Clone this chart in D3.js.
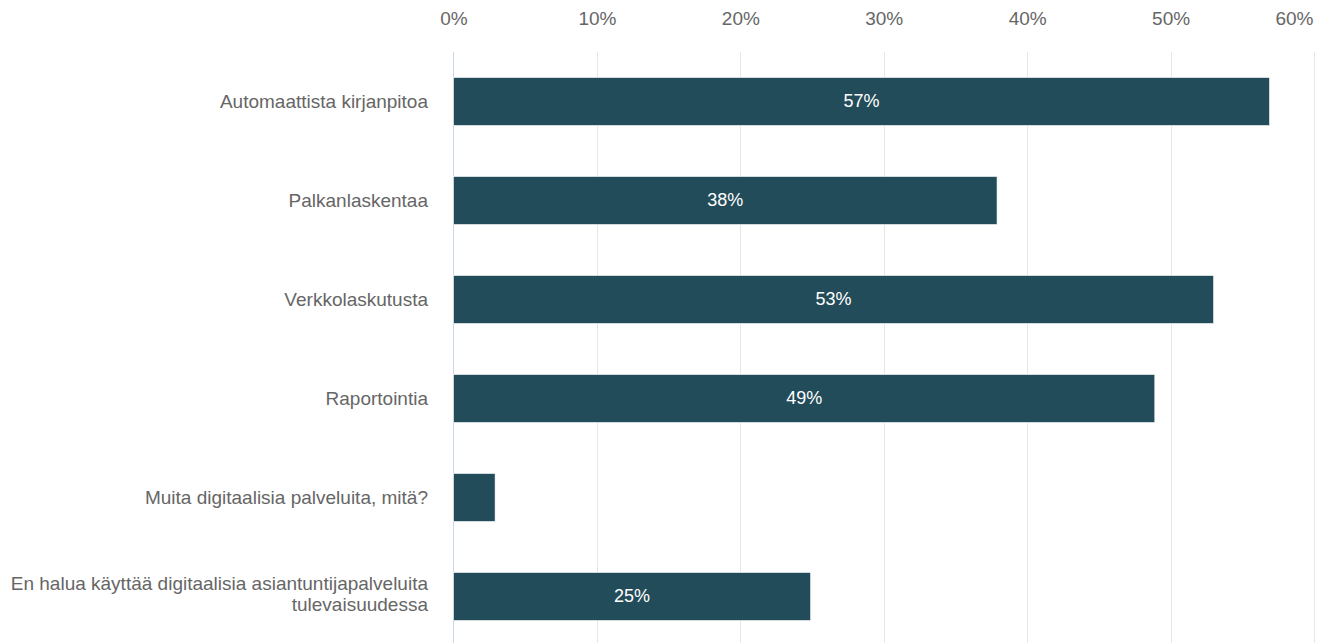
<!DOCTYPE html>
<html><head><meta charset="utf-8">
<script src="https://cdn.jsdelivr.net/npm/d3@7"></script>
<style>body{margin:0;background:#fff;}svg{display:block;font-family:"Liberation Sans",Arial,sans-serif;}</style>
</head><body><svg id="c" width="1323" height="643"></svg>
<script>
const categories = [
  ["Automaattista kirjanpitoa"],
  ["Palkanlaskentaa"],
  ["Verkkolaskutusta"],
  ["Raportointia"],
  ["Muita digitaalisia palveluita, mitä?"],
  ["En halua käyttää digitaalisia asiantuntijapalveluita", "tulevaisuudessa"]
];
const values = [56.9, 37.9, 53.0, 48.9, 2.9, 24.9];
const valueLabels = ["57%", "38%", "53%", "49%", "", "25%"];
const ticks = [0, 10, 20, 30, 40, 50, 60];

(function(){
const svg = d3.select("#c");
const pl = 453.5, pr = 1314, pt = 52, pb = 646;
const x = d3.scaleLinear().domain([0, 60]).range([pl, pr]);
const y = d3.scaleBand().domain(d3.range(categories.length)).range([pt, pb]).paddingInner(0.515).paddingOuter(0.2575);

// grid
svg.append("g").selectAll("line").data(ticks.slice(1)).join("line")
  .attr("x1", d => Math.round(x(d)) + 0.5).attr("x2", d => Math.round(x(d)) + 0.5)
  .attr("y1", pt).attr("y2", 643).attr("stroke", "#e6e6e6").attr("stroke-width", 1);
// baseline axis
svg.append("line").attr("x1", pl).attr("x2", pl).attr("y1", pt).attr("y2", 643)
  .attr("stroke", "#ccd6eb").attr("stroke-width", 1);

// top axis
const ax = svg.append("g").attr("transform", `translate(0,${pt})`)
  .call(d3.axisTop(x).tickValues(ticks).tickFormat(d => d + "%").tickSize(0).tickPadding(27));
ax.select(".domain").remove();
ax.selectAll("text").attr("fill", "#666666").style("font-size", "19px").style("font-family", "Liberation Sans, Arial, sans-serif");
// keep last tick label inside the chart (right-justified like the reference)
ax.selectAll(".tick").filter(d => d === 60).select("text").attr("text-anchor", "end").attr("x", -1);

// bars
svg.append("g").selectAll("rect").data(values).join("rect")
  .attr("x", x(0)).attr("y", (d, i) => y(i))
  .attr("width", d => x(d) - x(0)).attr("height", y.bandwidth())
  .attr("fill", "#234c5a").attr("stroke", "#ffffff").attr("stroke-width", 0.6);

// value labels
svg.append("g").selectAll("text").data(values).join("text")
  .attr("x", d => (x(0) + x(d)) / 2).attr("y", (d, i) => y(i) + y.bandwidth() / 2)
  .attr("dy", "0.33em").attr("text-anchor", "middle").attr("fill", "#ffffff")
  .style("font-size", "18px").text((d, i) => valueLabels[i]);

// category labels
const yl = svg.append("g").selectAll("text").data(categories).join("text")
  .attr("text-anchor", "end").attr("fill", "#666666").style("font-size", "19px")
  .attr("transform", (d, i) => `translate(428,${y(i) + y.bandwidth() / 2})`);
yl.each(function(lines) {
  const t = d3.select(this);
  const n = lines.length;
  lines.forEach((l, j) => {
    t.append("tspan").attr("x", 0).attr("y", n === 1 ? 6 : (j === 0 ? -7 : 14)).text(l);
  });
});
})();
</script></body></html>
